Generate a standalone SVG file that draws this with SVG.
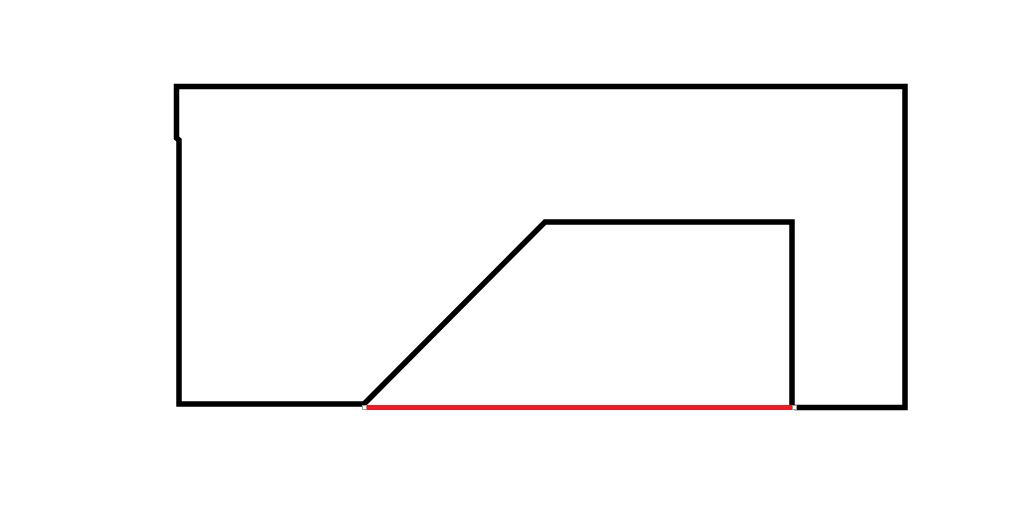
<svg xmlns="http://www.w3.org/2000/svg" width="1024" height="516" viewBox="0 0 1024 516">
<style>
.k{fill:none;stroke:#000;stroke-width:5.5;stroke-linejoin:miter;stroke-linecap:square}
.r{fill:none;stroke:#ed1c24;stroke-width:5}
.h{fill:#fff;stroke:#999;stroke-width:1}
</style>
<rect width="1024" height="516" fill="#fff"/>
<g id="outer">
<path class="k" d="M364,404 L179,404 L179,140 L176.5,138 L176.5,86.5 L905,86.5 L905,407.5 L797,407.5"/>
</g>
<g id="inner">
<path class="k" d="M364,404 L545,222 L792,222 L792,405"/>
</g>
<g id="base">
<line class="r" x1="367" y1="407.5" x2="792" y2="407.5"/>
<rect class="h" x="362.5" y="405.5" width="4" height="4"/>
<rect class="h" x="792.5" y="405.5" width="4" height="4"/>
</g>
</svg>
